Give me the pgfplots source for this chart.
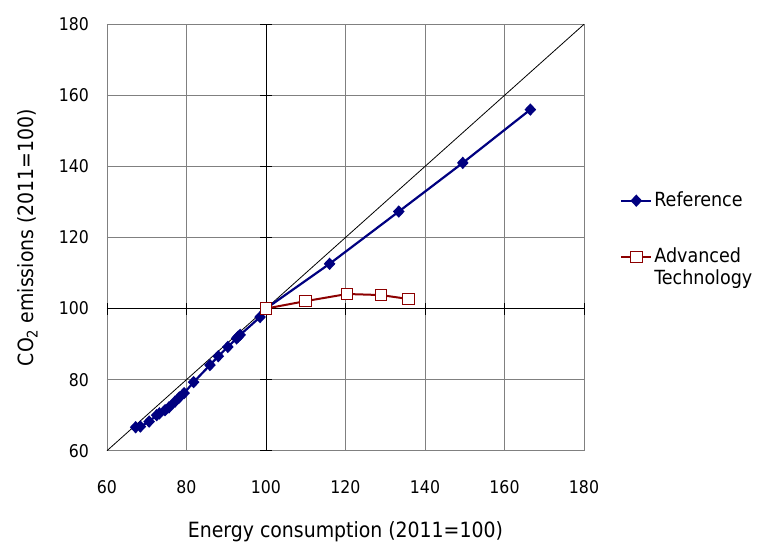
\documentclass[border=0pt]{standalone}
\usepackage{pgfplots}
\pgfplotsset{compat=1.18}
\usepackage{fontspec}
\setmainfont{DejaVu Sans Condensed}
\definecolor{refblue}{RGB}{0,0,128}
\definecolor{advred}{RGB}{140,0,0}
\definecolor{gridgray}{RGB}{128,128,128}
\begin{document}
\fontsize{18}{22}\selectfont
\begin{tikzpicture}
\path (-107pt,-90.3pt) rectangle (653pt,450.7pt);
\begin{axis}[
  at={(0,0)}, anchor=south west,
  scale only axis, width=477pt, height=426.4pt,
  xmin=60, xmax=180, ymin=60, ymax=180,
  xtick={60,80,...,180}, ytick={60,80,...,180},
  grid=major, major grid style={gridgray, line width=0.9pt},
  axis line style={gridgray, line width=0.9pt},
  major tick length=0pt,
  /pgf/number format/assume math mode=true,
  tick label style={font=\fontsize{17.5}{21}\selectfont},
  xticklabel style={yshift=-24pt},
  yticklabel style={xshift=-12pt},
  label style={font=\fontsize{21}{25}\selectfont},
  xlabel={Energy consumption (2011=100)},
  ylabel={CO\textsubscript{2} emissions (2011=100)},
  xlabel style={yshift=-15pt},
  ylabel style={yshift=9pt},
  legend style={draw=none, fill=none, at={(1.0755,0.612)}, anchor=north west,
    font=\fontsize{19.5}{23}\selectfont, cells={anchor=west},
    row sep=0pt, inner sep=0pt},
  legend image code/.code={
    \draw[#1, mark repeat=2, mark phase=2] plot coordinates {(0pt,0pt) (15pt,0pt) (30pt,0pt)};},
  clip=false,
]
% axes crossing at (100,100)
\draw[black, line width=0.9pt] (axis cs:100,60) -- (axis cs:100,180);
\draw[black, line width=0.9pt] (axis cs:60,100) -- (axis cs:180,100);
\pgfplotsinvokeforeach{60,80,...,180}{
  \draw[black, line width=0.9pt] ([xshift=-6pt]axis cs:100,#1) -- ([xshift=6pt]axis cs:100,#1);
  \draw[black, line width=0.9pt] ([yshift=-6pt]axis cs:#1,100) -- ([yshift=6pt]axis cs:#1,100);
}
\addplot[black, line width=0.8pt, forget plot] coordinates {(60,60) (180,180)};
\addplot[refblue, line width=2.2pt, mark=diamond*, mark size=4.6pt,
  mark options={refblue, solid, xscale=1.25}] coordinates {
  (67.2,66.6) (68.4,66.8) (70.6,68.2) (72.5,70.0) (73.2,70.5) (74.6,71.4)
  (75.6,72.2) (77.1,73.8) (78.2,75.0) (79.4,76.2) (81.8,79.3) (85.9,84.1)
  (88.0,86.6) (90.4,89.2) (92.6,91.6) (93.0,92.1) (93.5,92.6) (98.5,97.6)
  (100,100) (116.0,112.6) (133.4,127.3) (149.5,141.0) (166.5,156.0)};
\addlegendentry{Reference}
\addlegendimage{empty legend}
\addlegendentry{\rule{0pt}{28pt}}
\addplot[advred, line width=2pt, mark=square*, mark size=5.8pt,
  mark options={advred, fill=white, solid, line width=1pt}] coordinates {
  (100,100) (110.0,102.1) (120.4,104.1) (128.9,103.8) (135.8,102.7)};
\addlegendentry{Advanced}
\addlegendimage{empty legend}
\addlegendentry{Technology}
\end{axis}
\end{tikzpicture}
\end{document}
